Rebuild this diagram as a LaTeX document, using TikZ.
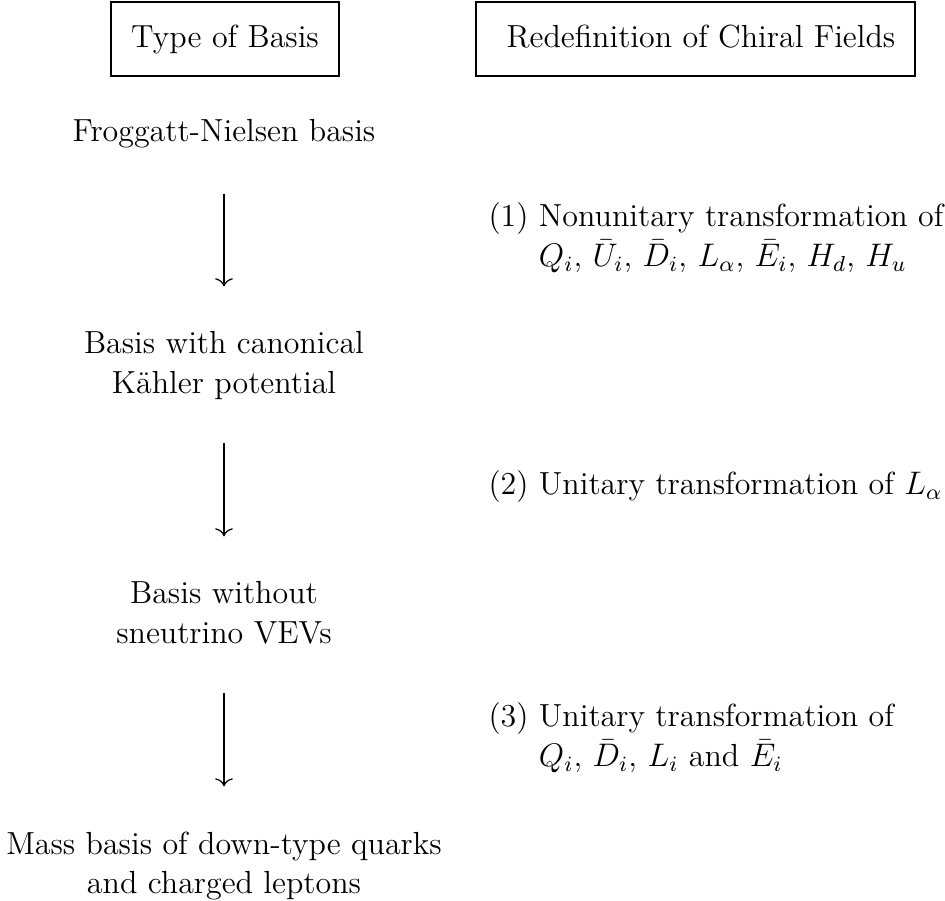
\documentclass[tikz,border=0pt]{standalone}
\usetikzlibrary{arrows.meta}
\begin{document}
\begin{tikzpicture}[x=0.36765pt,y=-0.36765pt,
  font=\fontsize{11.75}{14.5}\selectfont,
  hdr/.style={draw, line width=0.8pt, inner sep=0pt, text height=8.2pt, text depth=2.3pt, minimum height=27.2pt},
  col/.style={inner sep=0pt, anchor=base},
  rcol/.style={inner sep=0pt, anchor=base west},
  flow/.style={line width=0.45pt, -{To[length=3pt,width=6.5pt]}}]
\useasboundingbox (0,0) rectangle (945,901);
% headers
\node[hdr, minimum width=83.8pt] (h1) at (225,39) {Type of Basis};
\node[hdr, minimum width=161.4pt] (h2) at (695.5,39) {\hspace*{4pt}Redefinition of Chiral Fields};
% left column
\node[col] (fn) at (224,142) {\begin{tabular}[t]{@{}c@{}}Froggatt-Nielsen basis\end{tabular}};
\node[col] (kc) at (224,354) {\begin{tabular}[t]{@{}c@{}}Basis with canonical\\ K\"ahler potential\end{tabular}};
\node[col] (sv) at (224,604) {\begin{tabular}[t]{@{}c@{}}Basis without\\ sneutrino VEVs\end{tabular}};
\node[col] (mb) at (224,854) {\begin{tabular}[t]{@{}c@{}}Mass basis of down-type quarks\\ and charged leptons\end{tabular}};
% arrows
\draw[flow, shorten <=14.4pt, shorten >=14.5pt] (fn.south) -- (kc.north);
\draw[flow, shorten <=13.7pt, shorten >=14.5pt] (kc.south) -- (sv.north);
\draw[flow, shorten <=13.7pt, shorten >=14.5pt] (sv.south) -- (mb.north);
% right column
\node[rcol] (r1) at (488,227) {\begin{tabular}[t]{@{}l@{\ }l@{}}(1) & Nonunitary transformation of\\ & $Q_i$, $\bar{U}_i$, $\bar{D}_i$, $L_\alpha$, $\bar{E}_i$, $H_d$, $H_u$\end{tabular}};
\node[rcol] (r2) at (488,495) {\begin{tabular}[t]{@{}l@{\ }l@{}}(2) & Unitary transformation of $L_\alpha$\end{tabular}};
\node[rcol] (r3) at (488,727) {\begin{tabular}[t]{@{}l@{\ }l@{}}(3) & Unitary transformation of\\ & $Q_i$, $\bar{D}_i$, $L_i$ and $\bar{E}_i$\end{tabular}};
\end{tikzpicture}
\end{document}
